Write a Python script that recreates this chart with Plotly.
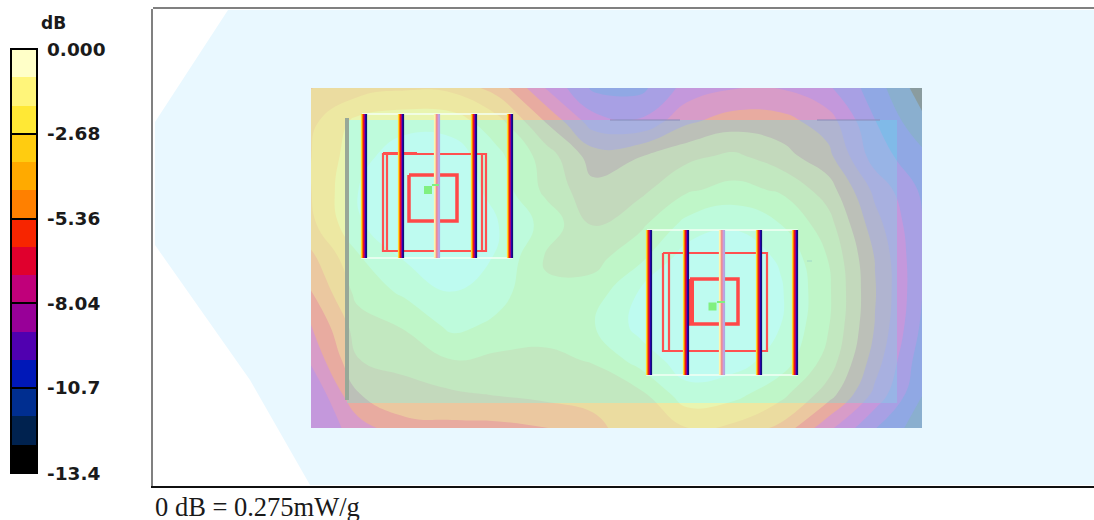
import plotly.graph_objs as go

W = 1094
H = 520

# colour key
BAR_LEVELS = [-0.45, -1.34, -2.23, -3.13, -4.02, -4.91, -5.8, -6.7, -7.59, -8.48, -9.38, -10.27, -11.16, -12.06, -12.95]
BAR_COLORS = ['#FFFFC8', '#FFF57A', '#FFE835', '#FFCC10', '#FFAA00', '#FF8000', '#F72500', '#E0002D',
              '#C0007A', '#980098', '#5000B0', '#0018B8', '#002E90', '#00224F', '#000000']
BAR_TICKS = [0, -2.68, -5.36, -8.04, -10.7, -13.4]
BAR_LABELS = ['0.000', '-2.68', '-5.36', '-8.04', '-10.7', '-13.4']

# same bands seen through the two translucent layers of the picture
OUTER_COLORS = ['#F0FAC8', '#E9F5B0', '#EDE8A2', '#EBDCA0', '#EBC8A0', '#E8ABA0', '#D89CC8', '#C498DC',
                '#A8A0E4', '#90A8E4', '#8AAFCF', '#8A9C9F', '#8A9C9F', '#8A9C9F', '#8A9C9F']
INNER_COLORS = ['#BEFBF0', '#BEFBDC', '#BFF6C8', '#C2E8C0', '#C3D9BC', '#BCC0B8', '#B0B4D0', '#A8B0E0',
                '#98B4E6', '#80BAE8', '#70BFE8', '#70BFE8', '#70BFE8', '#70BFE8', '#70BFE8']

# measured field in dB
GRID_X = [311, 358, 405, 452, 499, 546, 593, 640, 687, 734, 781, 828, 875, 922]
GRID_Y = [88, 122, 156, 190, 224, 258, 292, 326, 360, 394, 428]
FIELD_DB = [
    [-3.6, -3.1, -2.8, -2.9, -4.0, -6.3, -8.2, -8.3, -6.8, -6.3, -6.3, -7.0, -8.5, -10.3],
    [-2.9, -1.5, -1.2, -1.3, -2.4, -4.5, -6.7, -7.0, -5.5, -4.9, -5.0, -5.8, -8.0, -9.6],
    [-2.7, -1.2, -0.4, -0.4, -1.6, -3.1, -4.9, -4.5, -3.8, -3.4, -4.1, -5.1, -7.6, -8.7],
    [-2.7, -0.9, -0.2, -0.2, -1.3, -2.9, -4.2, -3.8, -2.8, -2.4, -2.8, -4.0, -6.5, -8.2],
    [-2.9, -1.0, -0.2, -0.2, -0.9, -2.1, -3.6, -2.9, -1.5, -1.0, -1.8, -3.2, -5.9, -8.0],
    [-3.8, -1.9, -0.8, -0.3, -1.0, -2.8, -3.0, -2.0, -0.4, -0.4, -1.0, -2.7, -5.4, -8.0],
    [-4.5, -2.4, -1.6, -0.9, -1.5, -2.5, -2.3, -0.8, -0.1, -0.1, -0.8, -2.5, -5.3, -8.0],
    [-5.4, -3.1, -2.6, -1.55, -2.0, -2.3, -1.85, -0.6, -0.1, -0.1, -0.9, -2.6, -5.4, -8.2],
    [-6.1, -3.6, -3.2, -2.7, -2.9, -2.9, -2.6, -1.4, -0.4, -0.5, -1.3, -3.0, -5.8, -8.6],
    [-7.1, -4.5, -4.0, -3.7, -3.5, -3.3, -3.3, -2.9, -1.2, -1.5, -2.4, -4.0, -6.5, -8.9],
    [-7.1, -5.8, -4.7, -4.7, -4.7, -4.5, -3.8, -3.1, -2.7, -2.9, -3.8, -6.0, -8.0, -9.5],
]

BACK_X = [228, 1094, 1094, 310, 250, 155, 155]
BACK_Y = [10, 10, 485, 485, 380, 245, 122]

# the two arrays of vertical elements
STRIPE_X_LEFT = [364, 401, 437, 474, 510]
STRIPE_X_RIGHT = [649, 686, 722, 759, 795]
STRONG_COLORS = ['#FFE030', '#FF8000', '#E81818', '#B00078', '#2800B0', '#101078']
PALE_COLORS = ['#FFF8B0', '#FFD8A0', '#F09090', '#E090B0', '#C8A0E0', '#B0A8E0']
STRIPE_OFFSETS = [-2.5, -1.5, -0.5, 0.5, 1.5, 2.5]

FRAME_LEFT_X = [362, 512, 512, 362, 362]
FRAME_LEFT_Y = [114, 114, 258, 258, 114]
FRAME_RIGHT_X = [647, 797, 797, 647, 647]
FRAME_RIGHT_Y = [230, 230, 375, 375, 230]

RED_THIN_X = [383, 417, None, 383, 383, 486, 486, 383, None, 387, 387, None, 482, 482, None,
              663, 767, 767, 663, 663, None, 669, 669]
RED_THIN_Y = [153, 153, None, 153, 251, 251, 154, 154, None, 154, 251, None, 154, 251, None,
              253, 253, 351, 351, 253, None, 253, 351]
RED_THICK_X = [409, 457, 457, 409, 409, None, 690, 738, 738, 690, 690]
RED_THICK_Y = [175, 175, 221, 221, 175, None, 279, 279, 324, 324, 279]
RED_HEAVY_X = [691.5, 691.5]
RED_HEAVY_Y = [279, 324]

GREEN_X = [428, 712.5]
GREEN_Y = [190, 306.5]
GREEN_TICK_X = [432, 439, None, 717, 725]
GREEN_TICK_Y = [185, 185, None, 302, 302]


def px(p):
    return p / W


def py(p):
    return 1 - p / H


def stepped(colors):
    n = len(colors)
    scale = []
    for i, c in enumerate(reversed(colors)):
        scale.append([i / n, c])
        scale.append([(i + 1) / n, c])
    return scale


def field_trace(colors, xaxis, yaxis):
    return go.Contour(
        x=GRID_X,
        y=GRID_Y,
        z=FIELD_DB,
        xaxis=xaxis,
        yaxis=yaxis,
        colorscale=stepped(colors),
        zmin=-13.4,
        zmax=0,
        autocontour=False,
        contours=dict(start=-13.4, end=0, size=13.4 / 15, coloring='fill', showlines=False),
        line=dict(width=0, smoothing=1.3),
        showscale=False,
        hoverinfo='skip',
    )


def line_trace(x, y, color, width):
    return go.Scatter(
        x=x, y=y, xaxis='x3', yaxis='y3', mode='lines',
        line=dict(color=color, width=width), hoverinfo='skip', showlegend=False,
    )


data = []

data.append(field_trace(OUTER_COLORS, 'x', 'y'))
data.append(field_trace(INNER_COLORS, 'x2', 'y2'))

# off-range points, only here to carry the colour key
data.append(go.Scatter(
    x=BAR_LEVELS,
    y=BAR_LEVELS,
    mode='markers',
    showlegend=False,
    hoverinfo='skip',
    marker=dict(
        color=BAR_LEVELS,
        colorscale=stepped(BAR_COLORS),
        cmin=-13.4,
        cmax=0,
        showscale=True,
        colorbar=dict(
            x=px(11),
            xanchor='left',
            xpad=0,
            y=py(49),
            yanchor='top',
            ypad=0,
            len=424 / H,
            thickness=26,
            outlinecolor='#000000',
            outlinewidth=2,
            tickmode='array',
            tickvals=BAR_TICKS,
            ticks='inside',
            ticklen=26,
            tickwidth=1.5,
            tickcolor='#000000',
            showticklabels=False,
        ),
    ),
))

data.append(line_trace([347, 347], [118, 400], '#98A898', 4))
data.append(line_trace([610, 680, None, 817, 880], [120, 120, None, 120, 120], '#8A8AB8', 1))

for xs, ys in [(FRAME_LEFT_X, FRAME_LEFT_Y), (FRAME_RIGHT_X, FRAME_RIGHT_Y)]:
    data.append(line_trace(xs, ys, '#F4FFF4', 1.5))

data.append(line_trace(RED_THIN_X, RED_THIN_Y, '#FF5050', 2.2))
data.append(line_trace(RED_THICK_X, RED_THICK_Y, '#FF4848', 3.5))
data.append(line_trace(RED_HEAVY_X, RED_HEAVY_Y, '#FF4848', 5))

for block, top, bottom in [(STRIPE_X_LEFT, 114, 258), (STRIPE_X_RIGHT, 230, 375)]:
    for i, sx in enumerate(block):
        colors = PALE_COLORS if i == 2 else STRONG_COLORS
        for dx, c in zip(STRIPE_OFFSETS, colors):
            data.append(line_trace([sx + dx, sx + dx], [top, bottom], c, 1.2))

data.append(go.Scatter(
    x=GREEN_X, y=GREEN_Y, xaxis='x3', yaxis='y3', mode='markers',
    marker=dict(symbol='square', size=8, color='#80F080', line=dict(width=0)),
    hoverinfo='skip', showlegend=False,
))
data.append(line_trace(GREEN_TICK_X, GREEN_TICK_Y, '#80F080', 2))
data.append(line_trace([807, 812], [261, 261], '#A0D8C8', 1))

hidden = dict(showgrid=False, zeroline=False, showticklabels=False, ticks='', fixedrange=True)
main_dom_x = [px(153), 1]
main_dom_y = [py(486), py(9)]

back_path = 'M ' + ' L '.join('{0} {1}'.format(a, b) for a, b in zip(BACK_X, BACK_Y)) + ' Z'

label_font = dict(family='DejaVu Sans', size=18.5, color='#1a1a1a', weight='bold')
annotations = [
    dict(text='dB', xref='paper', yref='paper', x=px(53), y=py(23), xanchor='center', yanchor='middle',
         showarrow=False, font=dict(family='DejaVu Sans', size=17, color='#1a1a1a', weight='bold')),
    dict(text='0 dB = 0.275mW/g', xref='paper', yref='paper', x=px(153), y=py(507), xanchor='left',
         yanchor='middle', showarrow=False, font=dict(family='Liberation Serif', size=26.5, color='#1a1a1a')),
]
# key labels sit flush left, which the colorbar's own labels do not do
for tick, label in zip(BAR_TICKS, BAR_LABELS):
    annotations.append(dict(
        text=label, xref='paper', yref='paper', x=px(45), y=py(49 - tick * 424 / 13.4),
        xanchor='left', yanchor='middle', showarrow=False, font=label_font,
    ))

layout = go.Layout(
    width=W,
    height=H,
    margin=dict(l=0, r=0, t=0, b=0),
    paper_bgcolor='#FFFFFF',
    plot_bgcolor='rgba(0,0,0,0)',
    showlegend=False,
    xaxis=dict(domain=main_dom_x, range=[153, W], showline=True, linecolor='#101010', linewidth=2, **hidden),
    yaxis=dict(domain=main_dom_y, range=[486, 9], showline=True, linecolor='#808080', linewidth=2, **hidden),
    xaxis2=dict(domain=[px(347), px(897)], range=[347, 897], anchor='y2', **hidden),
    yaxis2=dict(domain=[py(403), py(120)], range=[403, 120], anchor='x2', **hidden),
    xaxis3=dict(domain=main_dom_x, range=[153, W], anchor='y3', side='top', showline=True,
                linecolor='#808080', linewidth=1.5, **hidden),
    yaxis3=dict(domain=main_dom_y, range=[486, 9], anchor='x3', **hidden),
    shapes=[dict(type='path', path=back_path, xref='x', yref='y', layer='below',
                 fillcolor='#E9F8FF', line=dict(width=0))],
    annotations=annotations,
)

fig = go.Figure(data=data, layout=layout)
fig.write_html("out.html", config=dict(displayModeBar=False), post_script="document.body.style.margin = '0';")
